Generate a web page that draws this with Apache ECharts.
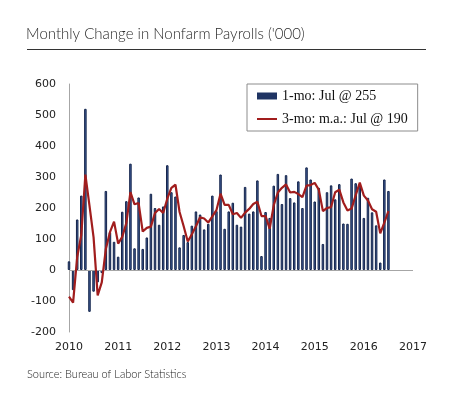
<!DOCTYPE html>
<html>
<head>
<meta charset="utf-8">
<title>Monthly Change in Nonfarm Payrolls</title>
<script src="https://cdn.jsdelivr.net/npm/echarts@6/dist/echarts.min.js"></script>
<style>
    html, body { margin: 0; padding: 0; background: #fff; }
    #chart { width: 450px; height: 399px; }
</style>
</head>
<body>
<div id="chart"></div>
<script>
// monthly change, '000, Jan 2010 .. Jul 2016
const payrolls = [
    28, -65, 163, 240, 520, -135, -70, -40, -10, 255, 122, 91,
    43, 188, 222, 343, 70, 234, 68, 105, 246, 200, 146, 205,
    338, 251, 237, 73, 113, 90, 143, 189, 179, 131, 149, 240,
    190, 308, 133, 189, 217, 146, 140, 268, 182, 189, 289, 45,
    187, 168, 272, 310, 213, 306, 232, 218, 286, 200, 331, 292,
    221, 265, 84, 251, 273, 228, 277, 150, 149, 295, 280, 271,
    168, 233, 186, 144, 24, 292, 255
]
// 3-month moving average, same months
const movingAvg = [
    -86, -105, 42, 113, 308, 208, 105, -82, -40, 68, 122, 156,
    85, 107, 151, 251, 212, 216, 124, 136, 140, 184, 197, 184,
    230, 265, 275, 187, 141, 92, 115, 141, 170, 166, 153, 173,
    193, 246, 210, 210, 180, 184, 168, 185, 197, 213, 220, 174,
    174, 133, 209, 250, 265, 276, 250, 252, 245, 235, 272, 274,
    281, 259, 190, 200, 203, 251, 259, 218, 192, 198, 241, 282,
    240, 224, 196, 188, 118, 153, 190
]
const years = [2010, 2011, 2012, 2013, 2014, 2015, 2016, 2017]
const yTicks = [-200, -100, 0, 100, 200, 300, 400, 500, 600]

// one category per month, Jan 2010 .. Jan 2017
let months = []
years.forEach(y => {
    for (let m = 1; m <= 12; m++) {
        if (y === 2017 && m > 1) break
        months.push(y + '-' + (m < 10 ? '0' + m : m))
    }
})

const barName = '1-mo: Jul @ 255'
const lineName = '3-mo: m.a.: Jul @ 190'

let myChart = echarts.init(document.getElementById('chart'))
let option = {
    animation: false,
    title: {
        text: "Monthly Change in Nonfarm Payrolls ('000)",
        left: 21,
        top: 22,
        textStyle: {
            fontFamily: 'Lato',
            fontWeight: 300,
            fontSize: 15,
            color: '#2a2a2a'
        }
    },
    graphic: [
        {
            type: 'line',
            shape: { x1: 27, y1: 49.5, x2: 426, y2: 49.5 },
            style: { stroke: '#333', lineWidth: 1 }
        },
        {
            type: 'text',
            left: 27,
            top: 369,
            style: {
                text: 'Source: Bureau of Labor Statistics',
                font: '300 11px Lato',
                fill: '#222'
            }
        }
    ],
    legend: {
        orient: 'vertical',
        left: 247,
        top: 84,
        padding: [5, 10, 5, 10],
        itemWidth: 20,
        itemHeight: 7,
        itemGap: 9,
        itemTextGap: 4,
        backgroundColor: '#fff',
        borderColor: '#8c8c8c',
        borderWidth: 1,
        textStyle: {
            fontFamily: 'Liberation Serif',
            fontSize: 14,
            lineHeight: 14,
            color: '#111'
        },
        data: [
            { name: barName, icon: 'rect', itemStyle: { color: '#1f3463', borderWidth: 0 } },
            { name: lineName, icon: 'path://M0,3 L20,3 L20,5 L0,5 Z', itemStyle: { color: '#a11d1d' } }
        ]
    },
    grid: {
        left: 69,
        right: 37,
        top: 84,
        bottom: 67
    },
    xAxis: {
        type: 'category',
        data: months,
        boundaryGap: false,
        axisLine: { show: false },
        axisTick: { show: false },
        axisLabel: {
            interval: (index, value) => value.slice(5) === '01',
            formatter: value => value.slice(0, 4),
            margin: 10,
            fontFamily: 'DejaVu Sans',
            fontSize: 11,
            color: '#222'
        }
    },
    yAxis: {
        type: 'value',
        min: yTicks[0],
        max: yTicks[yTicks.length - 1],
        interval: 100,
        splitLine: { show: false },
        axisTick: { show: false },
        axisLine: {
            show: true,
            lineStyle: { color: '#a6a6a6', width: 1 }
        },
        axisLabel: {
            margin: 13,
            fontFamily: 'DejaVu Sans',
            fontSize: 11,
            color: '#222'
        }
    },
    series: [
        {
            name: barName,
            type: 'bar',
            data: payrolls,
            barWidth: 2.5,
            itemStyle: {
                color: '#44639f',
                borderColor: '#13234a',
                borderWidth: 1
            },
            markLine: {
                silent: true,
                symbol: 'none',
                label: { show: false },
                lineStyle: { color: '#a6a6a6', width: 1, type: 'solid' },
                data: [{ yAxis: 0 }]
            }
        },
        {
            name: lineName,
            type: 'line',
            data: movingAvg,
            symbol: 'none',
            showSymbol: false,
            z: 5,
            lineStyle: { color: '#a11d1d', width: 2.2 },
            itemStyle: { color: '#a11d1d' }
        }
    ]
}
myChart.setOption(option)
window.onresize = myChart.resize
</script>
</body>
</html>
